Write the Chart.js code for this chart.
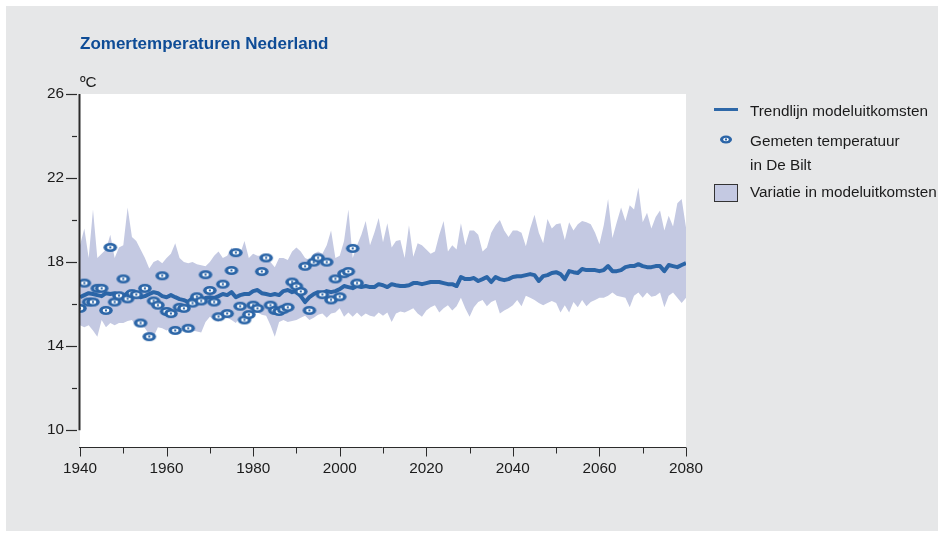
<!DOCTYPE html>
<html lang="nl">
<head>
<meta charset="utf-8">
<title>Zomertemperaturen Nederland</title>
<script src="https://cdn.jsdelivr.net/npm/chart.js@4.4.1/dist/chart.umd.min.js"></script>
<style>
  html, body { margin: 0; padding: 0; width: 938px; height: 533px; overflow: hidden; background: #ffffff;
    font-family: "Liberation Sans", Arial, Helvetica, sans-serif; }
  #panel { position: absolute; left: 6px; top: 6px; width: 932px; height: 525px; background: #e6e7e8; }
  #wrap { position: absolute; left: 0; top: 0; width: 938px; height: 533px; }
  .txt { position: absolute; line-height: 1; white-space: nowrap; color: #1b1b1b; font-size: 15.3px; }
  #title { left: 80px; top: 34.5px; font-size: 17px; font-weight: bold; color: #0e4c96; }
  #unit { left: 80px; top: 73.5px; }
  .swatch-line { position: absolute; left: 714px; top: 107.5px; width: 24px; height: 3.5px; background: #2e68a8; }
  .swatch-box { position: absolute; left: 714px; top: 184px; width: 24px; height: 18px; box-sizing: border-box;
    background: #c4c9e2; border: 1.5px solid #333333; }
  #legendMarker { position: absolute; left: 718px; top: 133.5px; }
</style>
</head>
<body>
<div id="panel"></div>
<div id="wrap"><canvas id="chart"></canvas></div>

<div id="title" class="txt">Zomertemperaturen Nederland</div>
<div id="unit" class="txt">ºC</div>

<div class="swatch-line"></div>
<div class="txt" style="left:750px; top:102.5px;">Trendlijn modeluitkomsten</div>
<canvas id="legendMarker" width="16" height="11"></canvas>
<div class="txt" style="left:750px; top:133px;">Gemeten temperatuur</div>
<div class="txt" style="left:750px; top:157px;">in De Bilt</div>
<div class="swatch-box"></div>
<div class="txt" style="left:750px; top:183.5px;">Variatie in modeluitkomsten</div>

<script>
// ---- data -------------------------------------------------------------
// model years 1940..2080
const modelYears = [];
for (let yr = 1940; yr <= 2080; yr++) modelYears.push(yr);

// upper edge of the model spread (°C)
const modelUpper = [
  18.8, 19.6, 18.2, 20.5, 18.2, 18.4, 18.6, 19.3, 18.2, 18.7,   // 1940-1949
  18.8, 20.6, 19.2, 19.0, 18.6, 18.2, 17.7, 18.0, 18.1, 17.95,  // 1950-1959
  18.2, 18.4, 18.9, 18.2, 18.0, 17.95, 18.0, 17.9, 17.85, 17.8, // 1960-1969
  18.0, 18.3, 18.5, 18.2, 18.3, 18.7, 18.3, 18.4, 19.0, 18.2,   // 1970-1979
  18.4, 18.3, 18.3, 18.3, 18.0, 17.75, 18.2, 18.2, 18.1, 18.5,  // 1980-1989
  18.7, 18.5, 18.2, 18.1, 18.4, 18.5, 18.4, 18.8, 19.5, 18.2,   // 1990-1999
  18.3, 19.0, 20.5, 18.2, 18.8, 19.3, 19.95, 18.8, 19.4, 20.1,  // 2000-2009
  18.95, 19.85, 18.7, 19.0, 19.05, 18.2, 19.75, 18.25, 18.9, 18.8, // 2010-2019
  18.6, 18.4, 18.5, 19.3, 19.95, 18.5, 18.8, 18.6, 19.85, 18.8, // 2020-2029
  19.5, 19.5, 19.3, 18.5, 18.7, 19.4, 19.75, 20.0, 19.5, 19.2,  // 2030-2039
  19.5, 19.5, 19.4, 18.75, 19.6, 20.25, 19.4, 18.9, 20.05, 19.6, // 2040-2049
  19.8, 19.85, 19.05, 19.9, 19.5, 19.8, 19.95, 19.9, 19.8, 19.4, // 2050-2059
  18.85, 19.75, 21.0, 19.15, 19.9, 20.6, 19.95, 20.7, 20.5, 21.55, // 2060-2069
  19.9, 20.35, 19.6, 20.15, 20.45, 19.5, 20.2, 19.7, 20.8, 21.0, // 2070-2079
  19.65                                                          // 2080
];

// lower edge of the model spread (°C)
const modelLower = [
  15.0, 14.9, 15.0, 14.75, 14.45, 15.25, 14.9, 15.1, 15.0, 15.1, // 1940-1949
  15.1, 15.2, 15.25, 14.95, 15.1, 14.85, 14.55, 14.45, 14.9, 14.85, // 1950-1959
  14.75, 14.85, 14.9, 14.9, 14.9, 14.85, 14.75, 14.7, 14.65, 15.15, // 1960-1969
  15.4, 15.25, 15.15, 15.55, 15.35, 15.25, 15.1, 15.4, 15.25, 15.55, // 1970-1979
  15.55, 15.6, 15.5, 15.45, 15.0, 14.45, 15.15, 15.25, 15.15, 15.2, // 1980-1989
  15.25, 15.35, 15.45, 15.25, 15.35, 15.5, 15.55, 15.35, 15.55, 15.6, // 1990-1999
  15.8, 15.4, 15.6, 15.4, 15.6, 15.4, 15.55, 15.45, 15.4, 15.6,  // 2000-2009
  15.45, 15.6, 15.15, 15.55, 15.65, 15.6, 15.7, 15.8, 15.55, 15.4, // 2010-2019
  15.7, 15.85, 15.95, 15.6, 15.8, 15.95, 15.7, 15.9, 16.3, 15.8, // 2020-2029
  15.4, 15.85, 16.1, 16.2, 15.9, 16.1, 16.2, 15.55, 15.7, 15.8,  // 2030-2039
  15.95, 16.2, 15.9, 16.4, 16.3, 16.2, 16.05, 15.95, 16.05, 16.15, // 2040-2049
  16.05, 15.6, 15.95, 15.6, 16.1, 15.85, 16.2, 15.9, 16.1, 16.2, // 2050-2059
  16.3, 16.3, 16.4, 16.55, 16.4, 16.35, 16.3, 15.85, 16.4, 16.55, // 2060-2069
  16.3, 16.55, 16.35, 16.4, 16.55, 15.85, 16.4, 16.55, 16.3, 16.05, // 2070-2079
  16.3                                                           // 2080
];

// model trend line (°C)
const modelTrend = [
  16.33, 16.43, 16.52, 16.48, 16.43, 16.38, 16.52, 16.48, 16.52, 16.43, // 1940-1949
  16.38, 16.52, 16.57, 16.43, 16.33, 16.38, 16.48, 16.57, 16.52, 16.38, // 1950-1959
  16.33, 16.43, 16.33, 16.24, 16.19, 16.10, 16.29, 16.33, 16.19, 16.29, // 1960-1969
  16.33, 16.29, 16.38, 16.48, 16.43, 16.57, 16.33, 16.43, 16.48, 16.48, // 1970-1979
  16.62, 16.67, 16.52, 16.48, 16.43, 16.48, 16.43, 16.62, 16.67, 16.57, // 1980-1989
  16.62, 16.38, 16.10, 16.33, 16.48, 16.57, 16.52, 16.62, 16.57, 16.62, // 1990-1999
  16.71, 16.86, 16.81, 16.76, 16.86, 16.81, 16.86, 16.81, 16.81, 16.95, // 2000-2009
  16.90, 16.81, 16.95, 16.90, 16.86, 16.86, 16.90, 17.00, 17.00, 16.95, // 2010-2019
  17.00, 17.05, 17.05, 17.05, 17.00, 16.95, 16.95, 16.86, 17.29, 17.19, // 2020-2029
  17.19, 17.24, 17.10, 17.19, 17.29, 17.05, 17.29, 17.19, 17.14, 17.19, // 2030-2039
  17.29, 17.33, 17.33, 17.38, 17.43, 17.38, 17.10, 17.33, 17.38, 17.48, // 2040-2049
  17.52, 17.43, 17.19, 17.57, 17.52, 17.48, 17.67, 17.62, 17.62, 17.62, // 2050-2059
  17.57, 17.62, 17.81, 17.57, 17.57, 17.62, 17.76, 17.81, 17.81, 17.90, // 2060-2069
  17.81, 17.76, 17.76, 17.81, 17.81, 17.57, 17.86, 17.81, 17.76, 17.86, // 2070-2079
  17.95                                                                  // 2080
];

// measured summer mean temperature, De Bilt, 1940..2004 (°C)
const observedYears = [];
for (let yr = 1940; yr <= 2004; yr++) observedYears.push(yr);
const observedTemp = [
  15.8, 17.0, 16.1, 16.1, 16.75, 16.75, 15.7, 18.7, 16.1, 16.4,   // 1940-1949
  17.2, 16.25, 16.5, 16.45, 15.1, 16.75, 14.45, 16.15, 15.95, 17.35, // 1950-1959
  15.65, 15.55, 14.75, 15.85, 15.8, 14.85, 16.05, 16.35, 16.15, 17.4, // 1960-1969
  16.65, 16.1, 15.4, 16.95, 15.55, 17.6, 18.45, 15.9, 15.25, 15.5,  // 1970-1979
  15.95, 15.8, 17.55, 18.2, 15.95, 15.7, 15.65, 15.75, 15.85, 17.05, // 1980-1989
  16.85, 16.6, 17.8, 15.7, 18.0, 18.2, 16.45, 18.0, 16.2, 17.2,     // 1990-1999
  16.35, 17.45, 17.55, 18.65, 17.0                                  // 2000-2004
];

// axis ticks
const xTickLabels = [1940, 1960, 1980, 2000, 2020, 2040, 2060, 2080];
const xMinorTicks = [1950, 1970, 1990, 2010, 2030, 2050, 2070];
const yTickLabels = [10, 14, 18, 22, 26];
const yMinorTicks = [12, 16, 20, 24];

// ---- styling ----------------------------------------------------------
const BLUE = '#2b65a7';
const BAND = '#c4c9e2';
const INK = '#1b1b1b';
const AXIS = '#2b2b2b';
const FONT = '"Liberation Sans", Arial, Helvetica, sans-serif';

// measurement marker: thick blue ring with a small white eye and a blue centre dot
function drawMarker(cnv, rx, ry) {
  const c = cnv.getContext('2d');
  const cx = cnv.width / 2, cy = cnv.height / 2;
  c.clearRect(0, 0, cnv.width, cnv.height);
  c.fillStyle = BLUE;
  c.beginPath(); c.ellipse(cx, cy, rx, ry, 0, 0, Math.PI * 2); c.fill();
  c.fillStyle = '#ffffff';
  c.beginPath(); c.ellipse(cx, cy, rx * 0.48, ry * 0.42, 0, 0, Math.PI * 2); c.fill();
  c.fillStyle = BLUE;
  c.beginPath(); c.arc(cx, cy, 1.15, 0, Math.PI * 2); c.fill();
  return cnv;
}
const marker = document.createElement('canvas');
marker.width = 16; marker.height = 11;
drawMarker(marker, 6.8, 4.5);
drawMarker(document.getElementById('legendMarker'), 6.0, 4.0);

const toPoints = (xs, ys) => xs.map((x, i) => ({ x: x, y: ys[i] }));

// white plot area plus the hand-styled axis lines and tick marks
const axesDecor = {
  id: 'axesDecor',
  beforeDraw(chart) {
    const { ctx, chartArea: a } = chart;
    ctx.save();
    ctx.fillStyle = '#ffffff';
    ctx.fillRect(a.left, a.top, a.right - a.left, a.bottom - a.top);
    ctx.restore();
  },
  afterDatasetsDraw(chart) {
    const { ctx, chartArea: a, scales: { x, y } } = chart;
    ctx.save();
    ctx.strokeStyle = AXIS;
    // vertical axis, from 10 up to 26
    ctx.lineWidth = 2;
    ctx.beginPath();
    ctx.moveTo(a.left - 0.5, y.getPixelForValue(26));
    ctx.lineTo(a.left - 0.5, y.getPixelForValue(10));
    ctx.stroke();
    // y tick marks, detached slightly from the axis
    ctx.lineWidth = 1.2;
    yTickLabels.forEach(v => {
      const py = Math.round(y.getPixelForValue(v)) + 0.5;
      ctx.beginPath(); ctx.moveTo(a.left - 14, py); ctx.lineTo(a.left - 3, py); ctx.stroke();
    });
    yMinorTicks.forEach(v => {
      const py = Math.round(y.getPixelForValue(v)) + 0.5;
      ctx.beginPath(); ctx.moveTo(a.left - 8, py); ctx.lineTo(a.left - 3, py); ctx.stroke();
    });
    // horizontal axis along the bottom of the plot
    const by = Math.round(a.bottom) + 0.5;
    ctx.lineWidth = 1;
    ctx.beginPath(); ctx.moveTo(a.left - 1, by); ctx.lineTo(a.right, by); ctx.stroke();
    xTickLabels.forEach(v => {
      const px = Math.round(x.getPixelForValue(v)) + 0.5;
      ctx.beginPath(); ctx.moveTo(px, by); ctx.lineTo(px, by + 9); ctx.stroke();
    });
    xMinorTicks.forEach(v => {
      const px = Math.round(x.getPixelForValue(v)) + 0.5;
      ctx.beginPath(); ctx.moveTo(px, by); ctx.lineTo(px, by + 6); ctx.stroke();
    });
    ctx.restore();
  }
};

new Chart(document.getElementById('chart'), {
  type: 'line',
  data: {
    datasets: [
      {
        label: 'Variatie in modeluitkomsten',
        data: toPoints(modelYears, modelUpper),
        borderWidth: 0, pointRadius: 0,
        backgroundColor: BAND,
        fill: '+1', order: 2
      },
      {
        label: 'ondergrens',
        data: toPoints(modelYears, modelLower),
        borderWidth: 0, pointRadius: 0,
        fill: false, order: 3
      },
      {
        label: 'Trendlijn modeluitkomsten',
        data: toPoints(modelYears, modelTrend),
        borderColor: BLUE, borderWidth: 4, pointRadius: 0,
        borderJoinStyle: 'round', tension: 0,
        fill: false, order: 1
      },
      {
        label: 'Gemeten temperatuur in De Bilt',
        data: toPoints(observedYears, observedTemp),
        showLine: false,
        pointStyle: marker, pointRadius: 7,
        order: 0
      }
    ]
  },
  options: {
    responsive: true,
    maintainAspectRatio: false,
    animation: false,
    events: [],
    layout: { padding: { top: 94, right: 252, bottom: 46, left: 0 } },
    plugins: { legend: { display: false }, tooltip: { enabled: false }, title: { display: false } },
    scales: {
      x: {
        type: 'linear', min: 1940, max: 2080,
        afterBuildTicks: s => { s.ticks = xTickLabels.map(v => ({ value: v })); },
        afterFit: s => { s.height = 40; },
        grid: { display: false, drawTicks: false },
        border: { display: false },
        ticks: {
          padding: 13, color: INK, maxRotation: 0, autoSkip: false,
          font: { family: FONT, size: 15.3 },
          callback: v => String(v)
        }
      },
      y: {
        type: 'linear', min: 9.2, max: 26,
        afterBuildTicks: s => { s.ticks = yTickLabels.map(v => ({ value: v })); },
        afterFit: s => { s.width = 80; },
        grid: { display: false, drawTicks: false },
        border: { display: false },
        ticks: {
          padding: 16, color: INK,
          font: { family: FONT, size: 15.3 },
          callback: v => String(v)
        }
      }
    }
  },
  plugins: [axesDecor]
});
</script>
</body>
</html>
